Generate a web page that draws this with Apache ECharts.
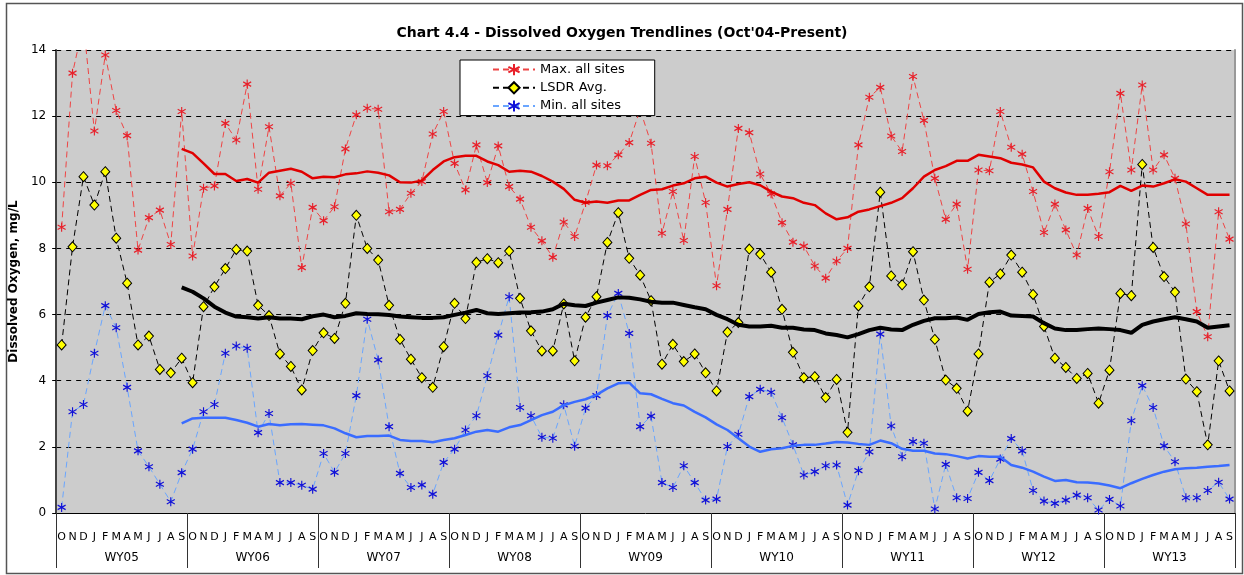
<!DOCTYPE html>
<html>
<head>
<meta charset="utf-8">
<script src="https://cdn.jsdelivr.net/npm/echarts@6/dist/echarts.min.js"></script>
<style>
html,body{margin:0;padding:0;background:#fff;}
#c{width:1244px;height:575px;}
</style>
</head>
<body>
<div id="c"></div>
<script>
const monthNames = ['O','N','D','J','F','M','A','M','J','J','A','S'];
const years = ['WY05','WY06','WY07','WY08','WY09','WY10','WY11','WY12','WY13'];
const yTicks = [0, 2, 4, 6, 8, 10, 12, 14];

const maxAll = [8.64,13.3,14.8,11.55,13.85,12.17,11.41,7.95,8.93,9.16,8.12,12.14,
7.77,9.82,9.89,11.78,11.28,12.97,9.79,11.68,9.59,9.97,7.42,9.24,
8.84,9.26,11.01,12.04,12.24,12.21,9.11,9.18,9.67,10.02,11.46,12.14,
10.57,9.77,11.13,9.99,11.1,9.87,9.49,8.64,8.23,7.73,8.8,8.36,
9.39,10.52,10.5,10.83,11.2,12.2,11.18,8.46,9.72,8.24,10.78,9.39,
6.87,9.18,11.63,11.5,10.25,9.65,8.78,8.19,8.07,7.47,7.10,7.62,
8.0,11.13,12.57,12.87,11.4,10.93,13.2,11.87,10.12,8.88,9.34,7.37,
10.37,10.35,12.14,11.06,10.85,9.72,8.48,9.34,8.56,7.8,9.21,8.36,
10.32,12.69,10.37,12.94,10.37,10.83,10.12,8.74,6.09,5.33,9.11,8.28];

const lsdrAvg = [5.08,8.05,10.17,9.31,10.32,8.31,6.95,5.08,5.35,4.34,4.24,4.68,
3.94,6.24,6.84,7.39,7.97,7.92,6.28,5.97,4.81,4.43,3.72,4.91,
5.45,5.28,6.34,9.0,8.0,7.65,6.28,5.25,4.65,4.09,3.8,5.03,
6.34,5.88,7.58,7.69,7.57,7.92,6.49,5.51,4.9,4.9,6.32,4.6,
5.92,6.54,8.18,9.08,7.7,7.19,6.42,4.5,5.1,4.58,4.81,4.24,
3.69,5.47,5.76,7.98,7.83,7.28,6.16,4.86,4.09,4.12,3.49,4.04,
2.44,6.26,6.84,9.7,7.17,6.9,7.9,6.44,5.25,4.02,3.77,3.08,
4.81,6.98,7.23,7.8,7.28,6.61,5.64,4.68,4.4,4.07,4.22,3.32,
4.32,6.64,6.57,10.54,8.03,7.15,6.68,4.05,3.67,2.06,4.6,3.69];

const minAll = [0.17,3.06,3.28,4.83,6.27,5.6,3.8,1.88,1.4,0.87,0.34,1.22,
1.93,3.06,3.28,4.83,5.05,4.98,2.43,3.01,0.92,0.92,0.84,0.72,
1.8,1.23,1.8,3.55,5.86,4.63,2.61,1.2,0.77,0.85,0.57,1.53,
1.93,2.51,2.94,4.15,5.38,6.54,3.19,2.94,2.29,2.26,3.27,2.02,
3.17,3.55,5.97,6.64,5.43,2.61,2.93,0.92,0.77,1.43,0.92,0.39,
0.42,2.01,2.38,3.52,3.74,3.65,2.88,2.06,1.15,1.25,1.43,1.45,
0.24,1.28,1.85,5.41,2.63,1.7,2.16,2.11,0.12,1.47,0.46,0.44,
1.23,0.98,1.63,2.25,1.88,0.68,0.36,0.29,0.39,0.54,0.46,0.09,
0.41,0.21,2.79,3.85,3.19,2.03,1.55,0.46,0.46,0.68,0.93,0.42];

const maxTrend = [null,null,null,null,null,null,null,null,null,null,null,11.01,
10.88,10.57,10.25,10.25,10.04,10.1,9.99,10.29,10.35,10.41,10.32,10.12,
10.17,10.15,10.24,10.27,10.33,10.29,10.21,10.0,9.99,10.05,10.37,10.63,
10.76,10.8,10.8,10.63,10.52,10.32,10.35,10.32,10.19,10.02,9.8,9.47,
9.38,9.42,9.38,9.45,9.45,9.62,9.77,9.79,9.9,9.97,10.12,10.17,
9.99,9.87,9.95,10.0,9.91,9.72,9.57,9.52,9.38,9.31,9.06,8.88,
8.94,9.11,9.18,9.28,9.38,9.52,9.82,10.17,10.37,10.49,10.65,10.65,
10.83,10.78,10.73,10.59,10.54,10.45,10.02,9.82,9.69,9.62,9.62,9.65,
9.7,9.89,9.74,9.9,9.87,9.97,10.09,10.02,9.82,9.62,9.62,9.62];

const avgTrend = [null,null,null,null,null,null,null,null,null,null,null,6.82,
6.69,6.49,6.24,6.06,5.94,5.92,5.88,5.92,5.88,5.88,5.86,5.95,
6.0,5.92,5.96,6.04,6.02,6.01,5.99,5.94,5.92,5.9,5.9,5.92,
5.99,6.06,6.14,6.04,6.02,6.04,6.06,6.07,6.09,6.16,6.33,6.28,
6.26,6.36,6.44,6.52,6.51,6.46,6.39,6.36,6.36,6.29,6.22,6.16,
5.99,5.86,5.69,5.64,5.64,5.66,5.6,5.6,5.55,5.53,5.43,5.38,
5.31,5.41,5.53,5.6,5.55,5.53,5.69,5.81,5.89,5.89,5.91,5.84,
6.02,6.07,6.09,5.97,5.96,5.94,5.74,5.58,5.53,5.53,5.56,5.58,
5.56,5.53,5.45,5.69,5.79,5.86,5.92,5.86,5.79,5.6,5.64,5.68];

const minTrend = [null,null,null,null,null,null,null,null,null,null,null,2.71,
2.86,2.88,2.88,2.88,2.81,2.73,2.61,2.69,2.65,2.68,2.69,2.67,
2.65,2.56,2.41,2.29,2.33,2.33,2.34,2.21,2.18,2.18,2.14,2.21,
2.26,2.36,2.46,2.51,2.46,2.59,2.66,2.81,2.96,3.06,3.26,3.36,
3.44,3.57,3.77,3.92,3.94,3.62,3.59,3.45,3.32,3.25,3.06,2.89,
2.68,2.51,2.26,2.01,1.85,1.93,1.96,2.03,2.06,2.06,2.1,2.15,
2.13,2.09,2.06,2.19,2.11,1.94,1.88,1.88,1.8,1.78,1.72,1.65,
1.72,1.7,1.7,1.45,1.37,1.25,1.1,0.97,1.0,0.93,0.92,0.89,
0.83,0.75,0.9,1.03,1.15,1.25,1.32,1.35,1.37,1.4,1.42,1.45];

const months = [];
years.forEach(() => monthNames.forEach(m => months.push(m)));

const FONT = 'DejaVu Sans';
const starPath = 'path://M5 0 L5 10 M0.7 2.5 L9.3 7.5 M0.7 7.5 L9.3 2.5';

const chart = echarts.init(document.getElementById('c'), null, {renderer: 'canvas'});
chart.setOption({
  animation: false,
  backgroundColor: '#ffffff',
  textStyle: {fontFamily: FONT},
  title: {
    text: "Chart 4.4 - Dissolved Oxygen Trendlines (Oct'04-Present)",
    left: 'center', top: 21,
    textStyle: {fontFamily: FONT, fontSize: 14, fontWeight: 'bold', color: '#000'}
  },
  graphic: [{
    type: 'rect', left: 4, top: 1, silent: true,
    shape: {width: 1236, height: 570},
    style: {fill: 'none', stroke: '#555', lineWidth: 1.5}
  }],
  legend: {
    data: ['Max. all sites', 'LSDR Avg.', 'Min. all sites'],
    orient: 'vertical',
    left: 460, top: 60,
    width: 188,
    backgroundColor: '#fff',
    borderColor: '#000', borderWidth: 1,
    padding: [3, 30, 3, 32],
    itemGap: 5,
    itemWidth: 42, itemHeight: 14,
    textStyle: {fontFamily: FONT, fontSize: 13, color: '#000'},
    selectedMode: false
  },
  grid: {left: 51, right: 9, top: 50, bottom: 62, show: true, backgroundColor: '#cccccc', borderWidth: 0},
  xAxis: [{
    type: 'category', data: months, boundaryGap: true,
    axisLine: {show: true, lineStyle: {color: '#000', width: 1}},
    axisTick: {show: false},
    axisLabel: {interval: 0, fontSize: 11, color: '#000', margin: 19, fontFamily: FONT},
    splitLine: {show: false}
  }, {
    type: 'category', data: years, boundaryGap: true, position: 'bottom',
    axisLine: {show: false},
    axisTick: {show: true, interval: 0, length: 55, lineStyle: {color: '#333', width: 1}},
    axisLabel: {interval: 0, fontSize: 12, color: '#000', margin: 39, fontFamily: FONT},
    splitLine: {show: false}
  }],
  yAxis: [{
    type: 'value', min: yTicks[0], max: yTicks[yTicks.length - 1], interval: 2,
    name: 'Dissolved Oxygen, mg/L', nameLocation: 'middle', nameGap: 27, nameRotate: 90,
    nameTextStyle: {fontFamily: FONT, fontSize: 12, fontWeight: 'bold', color: '#000'},
    axisLine: {show: true, lineStyle: {color: '#444', width: 2}},
    axisTick: {show: true, length: 4, lineStyle: {color: '#000'}},
    axisLabel: {fontSize: 12, color: '#000', margin: 10, fontFamily: FONT},
    splitLine: {show: true, lineStyle: {color: '#000', type: [5, 5], width: 1}}
  }, {
    type: 'value', position: 'right', min: 0, max: 14, interval: 2,
    axisLine: {show: true, lineStyle: {color: '#999', width: 2}},
    axisTick: {show: false}, axisLabel: {show: false}, splitLine: {show: false}
  }],
  series: [{
    name: 'Max. all sites', type: 'line', data: maxAll,
    symbol: starPath, symbolSize: [8, 9], symbolKeepAspect: false,
    lineStyle: {color: '#ee4444', width: 1, type: [6, 4]},
    itemStyle: {color: '#e8202a', borderColor: '#e8202a', borderWidth: 1.2},
    emphasis: {disabled: true}, z: 3
  }, {
    name: 'LSDR Avg.', type: 'line', data: lsdrAvg,
    symbol: 'diamond', symbolSize: [9, 10],
    lineStyle: {color: '#000', width: 1, type: [6, 4]},
    itemStyle: {color: '#ffff00', borderColor: '#000', borderWidth: 1},
    emphasis: {disabled: true}, z: 3
  }, {
    name: 'Min. all sites', type: 'line', data: minAll,
    symbol: starPath, symbolSize: [8, 9], symbolKeepAspect: false,
    lineStyle: {color: '#6aa6ff', width: 1, type: [6, 4]},
    itemStyle: {color: '#1010d8', borderColor: '#1010d8', borderWidth: 1.2},
    emphasis: {disabled: true}, z: 3
  }, {
    name: 'Max trend', type: 'line', data: maxTrend, symbol: 'none', smooth: false,
    lineStyle: {color: '#e00000', width: 2.5}, emphasis: {disabled: true}, z: 4
  }, {
    name: 'Avg trend', type: 'line', data: avgTrend, symbol: 'none',
    lineStyle: {color: '#000', width: 4}, emphasis: {disabled: true}, z: 4
  }, {
    name: 'Min trend', type: 'line', data: minTrend, symbol: 'none',
    lineStyle: {color: '#3a6cff', width: 2.5}, emphasis: {disabled: true}, z: 4
  }]
});
</script>
</body>
</html>
